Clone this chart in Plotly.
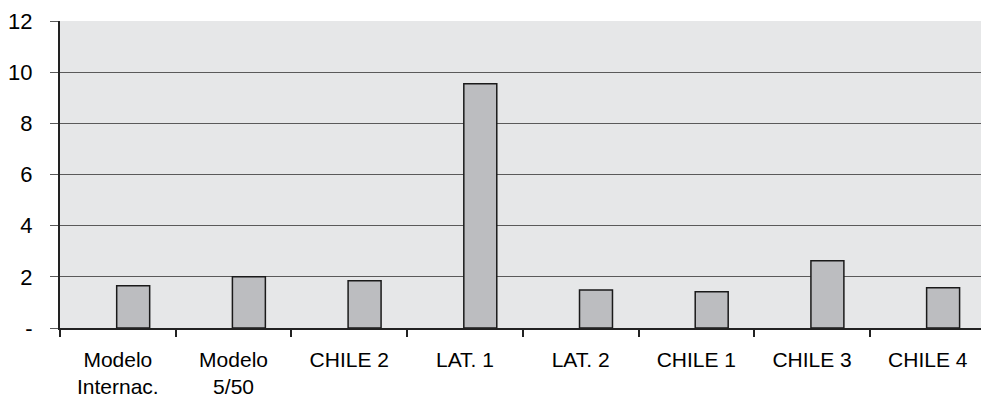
import plotly.graph_objects as go

# Category labels and values
categories = ["Modelo<br>Internac.", "Modelo<br>5/50", "CHILE 2", "LAT. 1",
              "LAT. 2", "CHILE 1", "CHILE 3", "CHILE 4"]
values = [1.65, 2.0, 1.85, 9.55, 1.49, 1.42, 2.63, 1.57]
y_tickvals = [0, 2, 4, 6, 8, 10, 12]
y_ticktext = ["-", "2", "4", "6", "8", "10", "12"]

font_family = "Liberation Sans, Arial, Helvetica, sans-serif"

fig = go.Figure()
fig.add_trace(go.Bar(
    x=categories,
    y=values,
    width=0.285,
    offset=-0.01,
    marker=dict(color="#bcbdc0", line=dict(color="#1a1a1a", width=1.5)),
    hoverinfo="y",
))

fig.update_layout(
    width=981,
    height=400,
    margin=dict(l=60, r=0, t=21, b=72),
    paper_bgcolor="white",
    plot_bgcolor="#e6e7e8",
    showlegend=False,
    font=dict(family=font_family, size=21, color="#000000"),
    xaxis=dict(
        type="category",
        range=[-0.5, 7.46],
        automargin=False,
        showgrid=False,
        zeroline=False,
        showline=True,
        linecolor="#222222",
        linewidth=1.5,
        ticks="outside",
        tickson="boundaries",
        ticklen=7,
        tickwidth=1.5,
        tickcolor="#222222",
        ticklabelstandoff=12,
        tickfont=dict(size=21),
    ),
    yaxis=dict(
        range=[0, 12],
        automargin=False,
        tickmode="array",
        tickvals=y_tickvals,
        ticktext=y_ticktext,
        showgrid=True,
        gridcolor="#5a5a5a",
        gridwidth=1,
        zeroline=False,
        showline=True,
        linecolor="#222222",
        linewidth=2,
        ticks="outside",
        ticklen=8,
        tickwidth=1,
        tickcolor="#5a5a5a",
        ticklabelstandoff=13,
        tickfont=dict(size=22),
    ),
)

fig.write_html("out.html")
